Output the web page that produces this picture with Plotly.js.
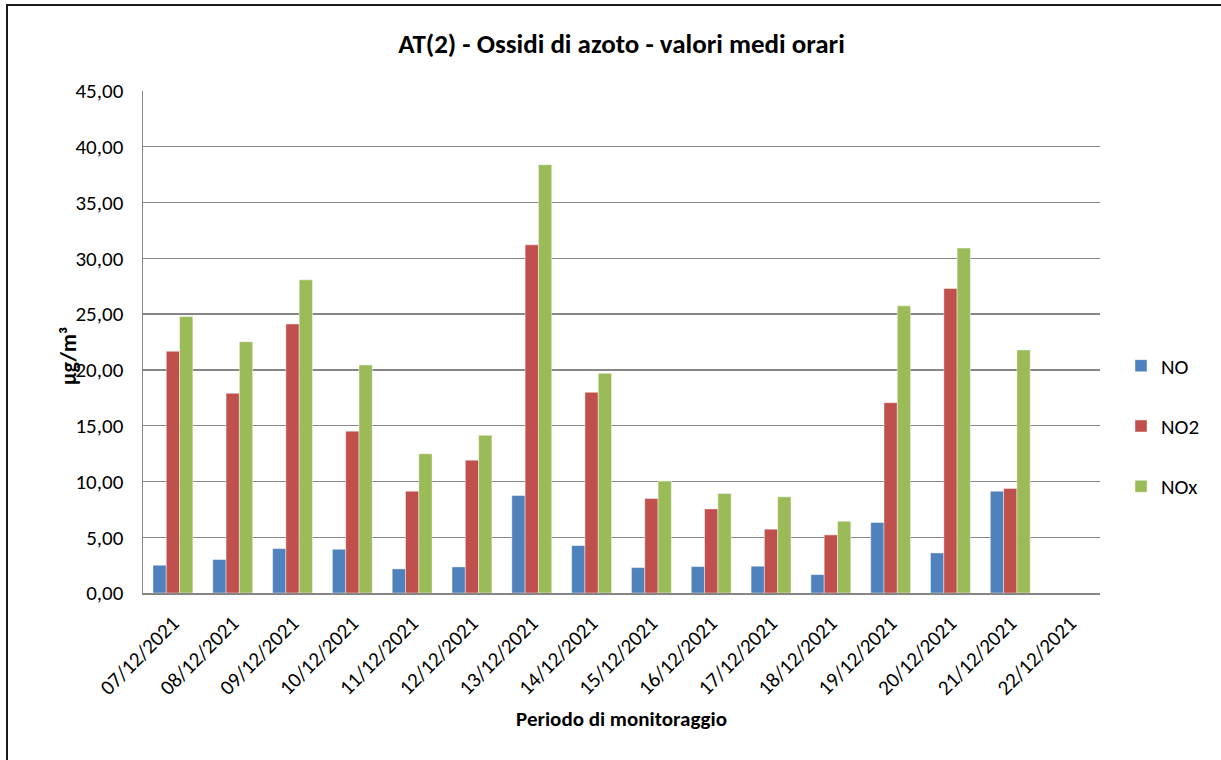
<!DOCTYPE html>
<html>
<head>
<meta charset="utf-8">
<script src="https://cdn.plot.ly/plotly-3.0.1.min.js"></script>
<style>
html,body{margin:0;padding:0;background:#fff;}
#chart{width:1221px;height:760px;}
</style>
</head>
<body>
<div id="chart"></div>
<script>
const categories = ["07/12/2021","08/12/2021","09/12/2021","10/12/2021","11/12/2021","12/12/2021","13/12/2021","14/12/2021","15/12/2021","16/12/2021","17/12/2021","18/12/2021","19/12/2021","20/12/2021","21/12/2021","22/12/2021"];
const valuesNO  = [2.49, 3.00, 3.98, 3.92, 2.16, 2.34, 8.74, 4.25, 2.28, 2.37, 2.40, 1.65, 6.32, 3.59, 9.13, null];
const valuesNO2 = [21.67, 17.90, 24.12, 14.51, 9.13, 11.91, 31.21, 17.99, 8.47, 7.54, 5.72, 5.21, 17.06, 27.29, 9.37, null];
const valuesNOx = [24.78, 22.53, 28.07, 20.44, 12.48, 14.13, 38.39, 19.69, 10.03, 8.92, 8.62, 6.44, 25.74, 30.92, 21.79, null];
const seriesNames = ["NO", "NO2", "NOx"];
const seriesColors = ["#4F81BD", "#C0504D", "#9BBB59"];
const titleText = "AT(2) - Ossidi di azoto - valori medi orari";
const xTitle = "Periodo di monitoraggio";
const yTitle = "µg/m³";

const FONT = "Calibri, Carlito, 'Open Sans', sans-serif";
const allValues = [valuesNO, valuesNO2, valuesNOx];
const traces = allValues.map((vals, i) => ({
  type: "bar",
  name: seriesNames[i],
  x: categories,
  y: vals,
  legendgroup: "g" + i,
  marker: {color: seriesColors[i], line: {color: "rgba(255,255,255,0.55)", width: 0.8}},
  hoverinfo: "x+y+name"
}));

// plot area: x 143..1100, y 91..593
const L = 143, R = 1100, T = 91, B = 593;
const pw = R - L, ph = B - T;
const px = v => (v - L) / pw;
const py = v => (B - v) / ph;

const layout = {
  width: 1221, height: 760,
  margin: {l: L, r: 1221 - R, t: T, b: 760 - B, pad: 0},
  paper_bgcolor: "#fff", plot_bgcolor: "#fff",
  separators: ",.",
  font: {family: FONT, size: 21, color: "#000"},
  title: {text: "<b>" + titleText + "</b>", font: {family: FONT, size: 27, color: "#000"}, x: 0.5, xref: "paper", y: 1 - 44/760, yanchor: "middle", xanchor: "center"},
  bargap: 0.333, bargroupgap: 0,
  barmode: "group",
  xaxis: {
    type: "category",
    tickangle: -45,
    showline: true, linecolor: "#868686", linewidth: 1.5,
    ticks: "", showgrid: false,
    ticklabelstandoff: 8,
    tickfont: {family: FONT, size: 21, color: "#000"},
    title: {text: "<b>" + xTitle + "</b>", font: {family: FONT, size: 21, color: "#000"}, standoff: 12},
    fixedrange: true
  },
  yaxis: {
    range: [0, 45], dtick: 5, tick0: 0,
    tickformat: ".2f",
    showline: true, linecolor: "#868686", linewidth: 1.5,
    showgrid: true, gridcolor: "#868686", gridwidth: 1.4,
    zeroline: false, ticks: "",
    ticklabelstandoff: 14,
    tickfont: {family: FONT, size: 21, color: "#000"},
    fixedrange: true
  },
  legend: {
    x: px(1121), xanchor: "left", y: py(426), yanchor: "middle",
    font: {family: FONT, size: 21, color: "#000"},
    tracegroupgap: 30, traceorder: "grouped",
    itemwidth: 30, bgcolor: "rgba(0,0,0,0)"
  },
  annotations: [{
    text: "<b>" + yTitle + "</b>", textangle: -90,
    xref: "paper", yref: "paper", x: px(68), y: py(356),
    xanchor: "center", yanchor: "middle", showarrow: false,
    font: {family: FONT, size: 22, color: "#000"}
  }],
  shapes: [{
    type: "rect", xref: "paper", yref: "paper",
    x0: px(7), x1: px(1240), y0: py(5), y1: py(780),
    line: {color: "#1a1a1a", width: 2}, fillcolor: "rgba(0,0,0,0)", layer: "below"
  }]
};

Plotly.newPlot("chart", traces, layout, {displayModeBar: false, staticPlot: true});
</script>
</body>
</html>
